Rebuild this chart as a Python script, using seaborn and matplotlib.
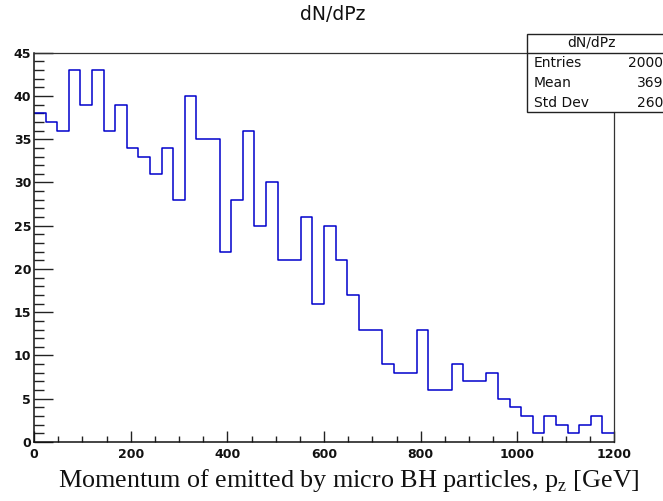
import numpy as np
import pandas as pd
import matplotlib
matplotlib.use("Agg")
import matplotlib.pyplot as plt
import seaborn as sns
from matplotlib.ticker import MultipleLocator
from matplotlib.patches import Rectangle

# ---- data ----
bin_edges = list(range(0, 1201, 24))
counts = [38, 37, 36, 43, 39, 43, 36, 39, 34, 33,
          31, 34, 28, 40, 35, 35, 22, 28, 36, 25,
          30, 21, 21, 26, 16, 25, 21, 17, 13, 13,
          9, 8, 8, 13, 6, 6, 9, 7, 7, 8,
          5, 4, 3, 1, 3, 2, 1, 2, 3, 1]
title = "dN/dPz"
xlabel = "Momentum of emitted by micro BH particles, p$_\\mathregular{z}$ [GeV]"
stats_labels = ["Entries", "Mean", "Std Dev"]
stats_values = ["2000", "369", "260"]

centers = [(bin_edges[i] + bin_edges[i + 1]) / 2 for i in range(len(counts))]
df = pd.DataFrame({"pz": centers, "n": counts})

sns.set_theme(style="white")
plt.rcParams["font.family"] = ["DejaVu Sans"]

W, H = 663, 501
fig = plt.figure(figsize=(W / 100, H / 100), dpi=100)
ax = fig.add_axes([34 / W, 1 - 442 / H, (614 - 34) / W, (442 - 52.7) / H])

sns.histplot(data=df, x="pz", weights="n", bins=bin_edges, element="step",
             fill=False, color="#0000cc", linewidth=1.1, ax=ax)

ax.set_xlim(0, 1200)
ax.set_ylim(0, 45)
ax.xaxis.set_major_locator(MultipleLocator(200))
ax.xaxis.set_minor_locator(MultipleLocator(50))
ax.yaxis.set_major_locator(MultipleLocator(5))
ax.yaxis.set_minor_locator(MultipleLocator(1))
ax.tick_params(axis="both", which="both", direction="in", color="#222222",
               width=1.0, top=False, right=False, bottom=True, left=True)
ax.tick_params(axis="y", which="major", length=13.5, pad=2)
ax.tick_params(axis="y", which="minor", length=7)
ax.tick_params(axis="x", which="major", length=8, pad=4)
ax.tick_params(axis="x", which="minor", length=4)
for lab in ax.get_xticklabels() + ax.get_yticklabels():
    lab.set_fontweight("bold")
    lab.set_fontsize(9)
    lab.set_color("#111111")
ax.set_xlabel("")
ax.set_ylabel("")
for s in ["left", "bottom"]:
    ax.spines[s].set_color("#111111")
    ax.spines[s].set_linewidth(1.1)
for s in ["top", "right"]:
    ax.spines[s].set_color("#333333")
    ax.spines[s].set_linewidth(0.9)

fig.text(333 / W, 1 - 14 / H, title, ha="center", va="center", fontsize=13.5,
         color="#111111")
fig.text(349 / W, 1 - 480 / H, xlabel, ha="center", va="center",
         fontsize=18.8, family="Liberation Serif", color="#111111")

# stats box
bx0, by0, by1 = 527 / W, 1 - 112 / H, 1 - 34 / H
fig.patches.append(Rectangle((bx0, by0), 1.1 - bx0, by1 - by0,
                             transform=fig.transFigure, facecolor="white",
                             edgecolor="#222222", linewidth=1.0, zorder=5))
fig.lines.append(plt.Line2D([bx0, 1.1], [1 - 53 / H] * 2, transform=fig.transFigure,
                            color="#222222", linewidth=1.0, zorder=6))
fig.text(592 / W, 1 - 43 / H, title, ha="center", va="center", fontsize=10,
         color="#111111", zorder=7)
for i, (l, v) in enumerate(zip(stats_labels, stats_values)):
    y = 1 - (63 + 20 * i) / H
    fig.text(534 / W, y, l, ha="left", va="center", fontsize=10, color="#111111", zorder=7)
    fig.text(663 / W, y, v, ha="right", va="center", fontsize=10, color="#111111", zorder=7)

fig.savefig("out.png", dpi=100)
